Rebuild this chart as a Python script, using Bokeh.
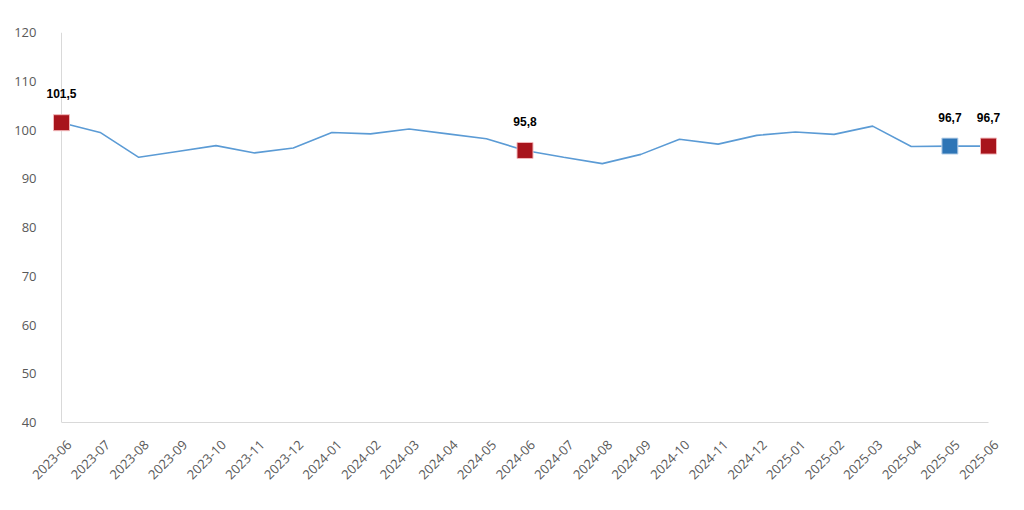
import math
from bokeh.plotting import figure
from bokeh.models import ColumnDataSource, Range1d, FixedTicker, LabelSet, LinearAxis
from bokeh.core.properties import value
from bokeh.embed import file_html
from bokeh.resources import INLINE

months = ["2023-06", "2023-07", "2023-08", "2023-09", "2023-10", "2023-11", "2023-12",
          "2024-01", "2024-02", "2024-03", "2024-04", "2024-05", "2024-06", "2024-07",
          "2024-08", "2024-09", "2024-10", "2024-11", "2024-12", "2025-01", "2025-02",
          "2025-03", "2025-04", "2025-05", "2025-06"]
values = [101.5, 99.5, 94.4, 95.6, 96.8, 95.3, 96.3, 99.5, 99.2, 100.2, 99.2, 98.2, 95.8,
          94.4, 93.1, 95.0, 98.1, 97.1, 98.9, 99.6, 99.1, 100.8, 96.6, 96.7, 96.7]
red_months = ["2023-06", "2024-06", "2025-06"]
blue_months = ["2025-05"]
y_ticks = [40, 50, 60, 70, 80, 90, 100, 110, 120]

LINE = "#5B9BD5"
RED = "#A8141C"
BLUE = "#2E75B6"
GRID = "#D9D9D9"
TICK_TXT = "#595959"

xs = list(range(len(months)))
n = len(months) - 1
x_lo, x_hi = -0.466, n + 0.414
shift = 0.2

p = figure(width=1008, height=494, output_backend="svg", toolbar_location=None,
           min_border_left=43, min_border_right=4, min_border_top=32, min_border_bottom=72,
           x_range=Range1d(x_lo, x_hi), y_range=Range1d(40, 120), x_axis_location=None)
p.outline_line_color = None
p.grid.visible = False
p.extra_x_ranges = {"lab": Range1d(x_lo - shift, x_hi - shift)}

# y-axis line drawn at the first category
p.segment(x0=[0], y0=[y_ticks[0]], x1=[0], y1=[y_ticks[-1]], line_color=GRID, line_width=1)

p.line(xs, values, line_color=LINE, line_width=1.6)

def pts(sel):
    idx = [months.index(m) for m in sel]
    return ColumnDataSource(dict(x=idx, y=[values[i] for i in idx],
                                 t=[f"{values[i]:.1f}".replace(".", ",") for i in idx]))

red_src = pts(red_months)
blue_src = pts(blue_months)
p.scatter("x", "y", source=red_src, marker="square", size=16, fill_color=RED,
          line_color="#F2B8BB", line_width=1)
p.scatter("x", "y", source=blue_src, marker="square", size=16, fill_color=BLUE,
          line_color="#BCD3EA", line_width=1)

for src in (red_src, blue_src):
    p.add_layout(LabelSet(x="x", y="y", text="t", source=src, y_offset=29,
                          text_align="center", text_baseline="middle",
                          text_font=value("Liberation Sans"), text_font_style="bold",
                          text_font_size="12px", text_color="#000000"))

xax = LinearAxis(x_range_name="lab")
xax.ticker = FixedTicker(ticks=xs)
xax.major_label_overrides = {i: m for i, m in enumerate(months)}
xax.major_label_orientation = math.pi / 4
xax.bounds = (-shift, n - shift)
p.add_layout(xax, "below")

p.yaxis.ticker = FixedTicker(ticks=y_ticks)
p.yaxis.axis_line_color = None

for ax in (xax, p.yaxis[0]):
    ax.major_tick_line_color = None
    ax.minor_tick_line_color = None
    ax.major_label_text_font = "Open Sans"
    ax.major_label_text_font_size = "13px"
    ax.major_label_text_color = TICK_TXT
xax.axis_line_color = GRID
xax.axis_line_width = 1
p.yaxis.major_label_standoff = 1
xax.major_label_standoff = 14

open("out.html", "w").write(file_html(p, INLINE))
